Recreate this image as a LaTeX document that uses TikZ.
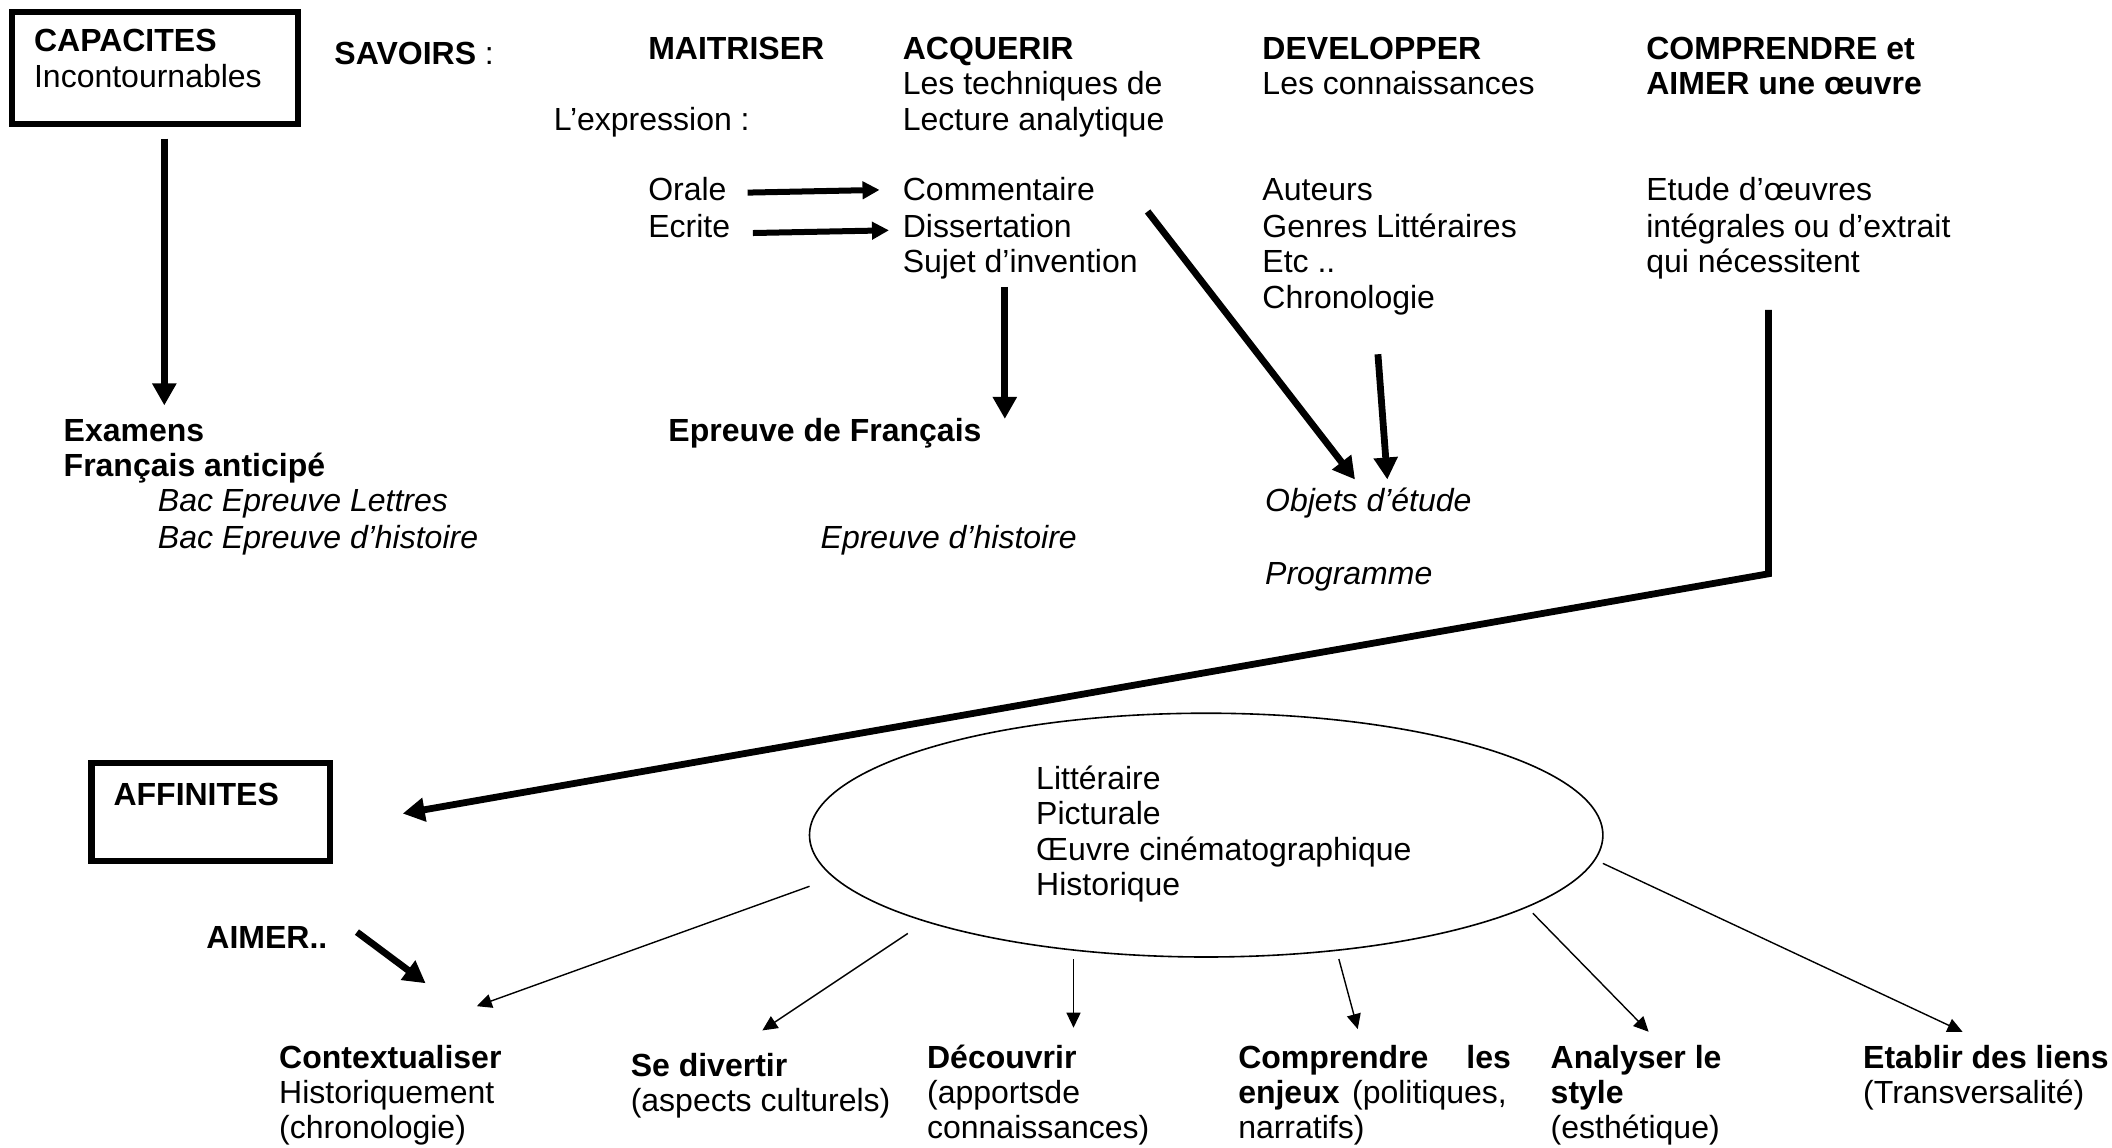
\documentclass[tikz,border=0pt]{standalone}
\usepackage{fontspec}
\setmainfont{Liberation Sans}
\usetikzlibrary{arrows.meta,shapes.geometric}
\begin{document}
\begin{tikzpicture}[x=0.6735pt,y=-0.6735pt,
  every node/.style={font=\fontsize{16}{17.9}\selectfont},
  txt/.style={anchor=base west, inner sep=0pt},
  txtr/.style={anchor=base east, inner sep=0pt},
  bold/.style={font=\fontsize{16}{17.9}\selectfont\bfseries},
  ital/.style={font=\fontsize{16}{17.9}\selectfont\itshape},
  boxstyle/.style={draw, line width=3.2pt, inner sep=0pt},
  bigarrow/.style={line width=3.4pt, -{Triangle[length=11pt,width=11.5pt]}},
  medarrow/.style={line width=3pt, -{Triangle[length=8.5pt,width=8.5pt]}},
  thinarrow/.style={line width=0.7pt, -{Triangle[length=7.5pt,width=7pt]}}]
\useasboundingbox (0,0) rectangle (1568,852);

% boxes
\node[boxstyle, minimum width=143pt, minimum height=56pt] (capbox) at (115,50.5) {};
\node[boxstyle, minimum width=119.5pt, minimum height=49pt] (affbox) at (156.5,603) {};
\node[draw, ellipse, line width=0.8pt, minimum width=396.7pt, minimum height=121.9pt, inner sep=0pt] (ell) at (895.5,620) {};

% top texts
\node[txt,bold] (cap1) at (25,38) {CAPACITES};
\node[txt] (cap2) at (25,65) {Incontournables};
\node[txt] (sav) at (248,48) {\textbf{SAVOIRS} :};
\node[txt,bold] (mai) at (481,44) {MAITRISER};
\node[txt] (expr) at (411,97) {L’expression :};
\node[txt] (orale) at (481,149) {Orale};
\node[txt] (ecrite) at (481,176) {Ecrite};
\node[txt,bold] (acq) at (670,44) {ACQUERIR};
\node[txt] (acq2) at (670,70) {Les techniques de};
\node[txt] (acq3) at (670,97) {Lecture analytique};
\node[txt] (comm) at (670,149) {Commentaire};
\node[txt] (diss) at (670,176) {Dissertation};
\node[txt] (suj) at (670,202) {Sujet d’invention};
\node[txt,bold] (dev) at (937,44) {DEVELOPPER};
\node[txt] (dev2) at (937,70) {Les connaissances};
\node[txt] (aut) at (937,149) {Auteurs};
\node[txt] (gen) at (937,176) {Genres Littéraires};
\node[txt] (etc) at (937,202) {Etc ..};
\node[txt] (chr) at (937,229) {Chronologie};
\node[txt,bold] (compa) at (1222,44) {COMPRENDRE et};
\node[txt,bold] (compb) at (1222,70) {AIMER une œuvre};
\node[txt] (et1) at (1222,149) {Etude d’œuvres};
\node[txt] (et2) at (1222,176) {intégrales ou d’extrait};
\node[txt] (et3) at (1222,202) {qui nécessitent};

% middle texts
\node[txt,bold] (exa1) at (47,328) {Examens};
\node[txt,bold] (exa2) at (47,354) {Français anticipé};
\node[txt,ital] (bac1) at (117,380) {Bac Epreuve Lettres};
\node[txt,ital] (bac2) at (117,407) {Bac Epreuve d’histoire};
\node[txt,bold] (epf) at (496,328) {Epreuve de Français};
\node[txt,ital] (eph) at (609,407) {Epreuve d’histoire};
\node[txt,ital] (obj) at (939,380) {Objets d’étude};
\node[txt,ital] (prog) at (939,434) {Programme};

% lower texts
\node[txt,bold] (aff) at (84,598) {AFFINITES};
\node[txt] (el1) at (769,586) {Littéraire};
\node[txt] (el2) at (769,612) {Picturale};
\node[txt] (el3) at (769,639) {Œuvre cinématographique};
\node[txt] (el4) at (769,665) {Historique};
\node[txt,bold] (aim) at (153,704) {AIMER..};

\node[txt,bold] (ctx1) at (207,793) {Contextualiser};
\node[txt] (ctx2) at (207,819) {Historiquement};
\node[txt] (ctx3) at (207,845) {(chronologie)};
\node[txt,bold] (div1) at (468,799) {Se divertir};
\node[txt] (div2) at (468,825) {(aspects culturels)};
\node[txt,bold] (dec1) at (688,793) {Découvrir};
\node[txt] (dec2) at (688,819) {(apportsde};
\node[txt] (dec3) at (688,845) {connaissances)};
\node[txt,bold] (cpr1) at (919,793) {Comprendre};
\node[txtr,bold] (cpr1b) at (1122,793) {les};
\node[txt,bold] (cpr2) at (919,819) {enjeux};
\node[txtr] (cpr2b) at (1119,819) {(politiques,};
\node[txt] (cpr3) at (919,845) {narratifs)};
\node[txt,bold] (ana1) at (1151,793) {Analyser le};
\node[txt,bold] (ana2) at (1151,819) {style};
\node[txt] (ana3) at (1151,845) {(esthétique)};
\node[txt,bold] (eta1) at (1383,793) {Etablir des liens};
\node[txt] (eta2) at (1383,819) {(Transversalité)};

% connector end points
\coordinate (capS) at (122,103);
\coordinate (capE) at (122,301);
\coordinate (orS) at (555,143);
\coordinate (orE) at (653,141);
\coordinate (ecS) at (559,173);
\coordinate (ecE) at (660,171);
\coordinate (sujS) at (746,213);
\coordinate (sujE) at (746,311);
\coordinate (comS) at (852,157);
\coordinate (comE) at (1006,356);
\coordinate (chrS) at (1023,263);
\coordinate (chrE) at (1030,356);
\coordinate (etS) at (1313,230);
\coordinate (etC) at (1313,426);
\coordinate (affE) at (299,604);
\coordinate (aimS) at (265,692);
\coordinate (aimE) at (316,730);
\coordinate (t1S) at (601,658);
\coordinate (t1E) at (354,747);
\coordinate (t2S) at (674,693);
\coordinate (t2E) at (566,765);
\coordinate (t3S) at (797,712);
\coordinate (t3E) at (797,763);
\coordinate (t4S) at (994,712);
\coordinate (t4E) at (1008,764);
\coordinate (t5S) at (1138,678);
\coordinate (t5E) at (1224,766);
\coordinate (t6S) at (1190,641);
\coordinate (t6E) at (1457,766);

% connectors
\draw[bigarrow] (capS) -- (capE);
\draw[medarrow] (orS) -- (orE);
\draw[medarrow] (ecS) -- (ecE);
\draw[bigarrow] (sujS) -- (sujE);
\draw[bigarrow] (comS) -- (comE);
\draw[bigarrow] (chrS) -- (chrE);
\draw[bigarrow] (etS) -- (etC) -- (affE);
\draw[bigarrow] (aimS) -- (aimE);
\draw[thinarrow] (t1S) -- (t1E);
\draw[thinarrow] (t2S) -- (t2E);
\draw[thinarrow] (t3S) -- (t3E);
\draw[thinarrow] (t4S) -- (t4E);
\draw[thinarrow] (t5S) -- (t5E);
\draw[thinarrow] (t6S) -- (t6E);
\end{tikzpicture}
\end{document}
